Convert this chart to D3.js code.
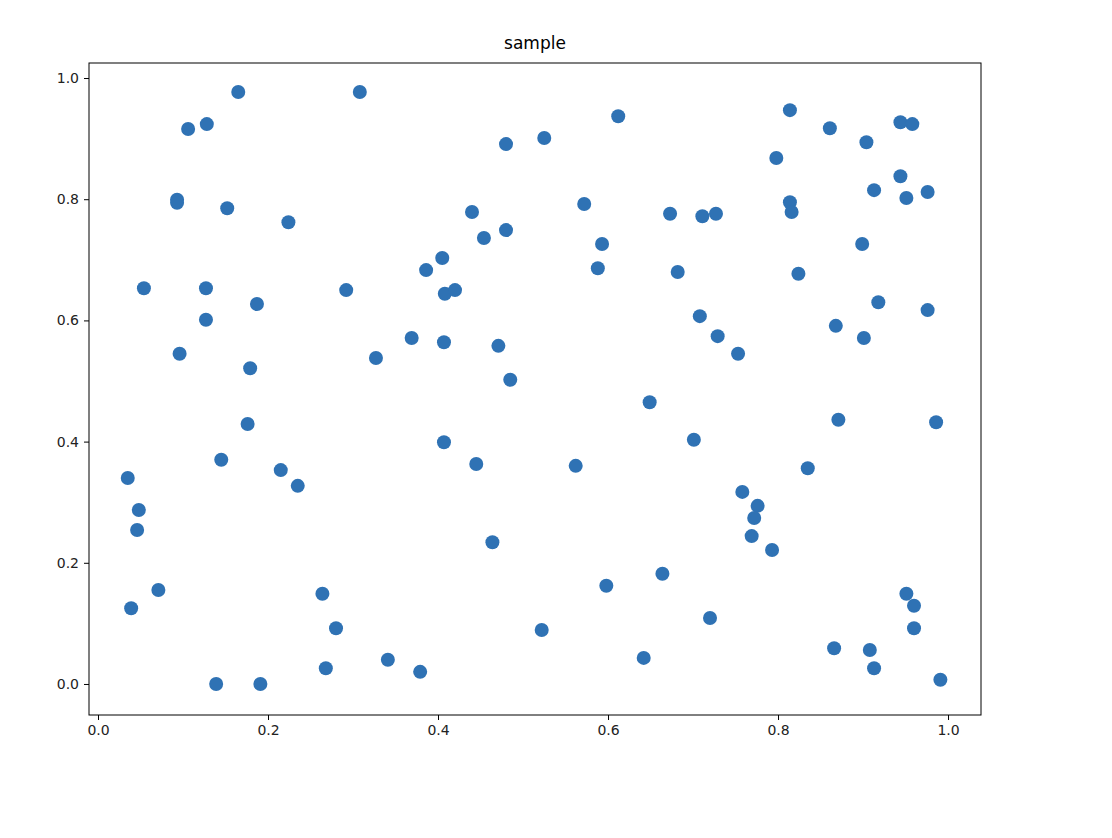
<!DOCTYPE html>
<html>
<head>
<meta charset="utf-8">
<script src="https://cdn.jsdelivr.net/npm/d3@7"></script>
<style>
  body { margin: 0; background: #fff; }
  text { font-family: "DejaVu Sans", sans-serif; }
</style>
</head>
<body>
<script>
const width = 1112;
const height = 838;

// scatter values
const xs = [0.035,0.048,0.046,0.039,0.071,0.054,0.096,0.106,0.128,0.165,0.093,0.093,0.152,0.127,0.127,0.187,0.179,0.176,0.145,0.215,
  0.235,0.224,0.308,0.292,0.327,0.369,0.386,0.405,0.408,0.420,0.407,0.407,0.440,0.454,0.480,0.480,0.471,0.485,0.445,0.464,
  0.525,0.264,0.280,0.268,0.341,0.379,0.139,0.191,0.522,0.572,0.593,0.588,0.612,0.562,0.598,0.649,0.664,0.642,0.673,0.682,
  0.708,0.711,0.727,0.729,0.753,0.701,0.758,0.776,0.772,0.769,0.793,0.720,0.814,0.798,0.814,0.816,0.824,0.861,0.904,0.944,
  0.958,0.944,0.913,0.951,0.976,0.899,0.918,0.868,0.901,0.976,0.871,0.835,0.986,0.951,0.960,0.960,0.866,0.908,0.913,0.991];
const ys = [0.340,0.287,0.254,0.125,0.155,0.653,0.545,0.916,0.924,0.977,0.799,0.794,0.785,0.653,0.601,0.627,0.521,0.429,0.370,0.353,
  0.327,0.762,0.977,0.650,0.538,0.571,0.683,0.703,0.644,0.650,0.564,0.399,0.779,0.736,0.749,0.891,0.558,0.502,0.363,0.234,
  0.901,0.149,0.092,0.026,0.040,0.020,0.000,0.000,0.089,0.792,0.726,0.686,0.937,0.360,0.162,0.465,0.182,0.043,0.776,0.680,
  0.607,0.772,0.776,0.574,0.545,0.403,0.317,0.294,0.274,0.244,0.221,0.109,0.947,0.868,0.795,0.779,0.677,0.917,0.894,0.927,
  0.924,0.838,0.815,0.802,0.812,0.726,0.630,0.591,0.571,0.617,0.436,0.356,0.432,0.149,0.129,0.092,0.059,0.056,0.026,0.007];
const tickVals = [0, 0.2, 0.4, 0.6, 0.8, 1.0];

const plotL = 89, plotR = 981, plotT = 63, plotB = 715;

const svg = d3.select('body').append('svg').attr('width', width).attr('height', height);

const x = d3.scaleLinear().domain([-0.0106, 1.0388]).range([plotL, plotR]);
const y = d3.scaleLinear().domain([-0.0512, 1.0248]).range([plotB, plotT]);

svg.append("g")
  .attr("transform", `translate(0,${plotB})`)
  .call(d3.axisBottom(x).tickValues(tickVals).tickFormat(d3.format(".1f")).tickSize(5).tickPadding(5))
  .call(g => g.select(".domain").remove())
  .selectAll("text").style("font-size", "14px").style("fill", "#222");

svg.append("g")
  .attr("transform", `translate(${plotL},0)`)
  .call(d3.axisLeft(y).tickValues(tickVals).tickFormat(d3.format(".1f")).tickSize(5).tickPadding(5))
  .call(g => g.select(".domain").remove())
  .selectAll("text").style("font-size", "14px").style("fill", "#222");

svg.append("rect")
  .attr("x", plotL).attr("y", plotT)
  .attr("width", plotR - plotL).attr("height", plotB - plotT)
  .style("fill", "none").style("stroke", "black").style("stroke-width", 1);

svg.selectAll("circle.pt")
  .data(d3.range(xs.length))
  .enter()
  .append("circle")
  .attr("class", "pt")
  .attr("cx", i => x(xs[i]))
  .attr("cy", i => y(ys[i]))
  .attr("r", 7)
  .style("fill", "#2f72b4");

svg.append("text")
  .attr("x", (plotL + plotR) / 2).attr("y", 49)
  .attr("text-anchor", "middle")
  .style("font-size", "17px")
  .text("sample");
</script>
</body>
</html>
